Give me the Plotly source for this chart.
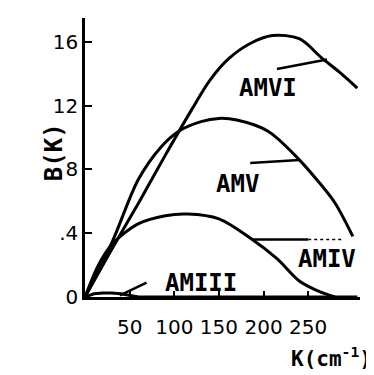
import plotly.graph_objects as go

# values
k_vi = [0, 30, 60, 90, 120, 140, 160, 185, 210, 240, 265, 285, 305]
b_vi = [0, 3.0, 5.9, 8.9, 11.8, 13.6, 14.9, 15.9, 16.4, 16.2, 15.0, 14.1, 13.1]

k_v = [0, 30, 60, 85, 105, 130, 150, 170, 205, 235, 262, 280, 300]
b_v = [0, 3.4, 7.4, 9.4, 10.4, 11.0, 11.2, 11.1, 10.4, 8.9, 7.2, 5.9, 3.8]

k_iv = [0, 15, 30, 60, 90, 115, 150, 185, 215, 240, 260, 280]
b_iv = [0, 2.0, 3.3, 4.6, 5.1, 5.2, 4.9, 3.7, 2.4, 1.0, 0.4, 0.0]

k_iii = [0, 10, 20, 30, 40, 50, 60, 305]
b_iii = [0, 0.2, 0.25, 0.25, 0.2, 0.1, 0.0, 0.0]

y_ticks = [0, 4, 8, 12, 16]
y_labels = ["0", ".4", "8", "12", "16"]
x_ticks = [50, 100, 150, 200, 250]
x_labels = ["50", "100", "150", "200", "250"]

labels = ["AMVI", "AMV", "AMIV", "AMIII"]
label_pos = [(205, 13.1), (171, 7.1), (271, 2.4), (130, 0.9)]
leaders = [((215, 14.3), (271, 14.9)), ((185, 8.4), (240, 8.6)),
           ((188, 3.6), (250, 3.6)), ((69, 0.9), (39, 0.1))]

fig = go.Figure()
for k, b, shape in [(k_vi, b_vi, "spline"), (k_v, b_v, "spline"),
                    (k_iv, b_iv, "spline"), (k_iii, b_iii, "linear")]:
    fig.add_trace(go.Scatter(x=k, y=b, mode="lines", line_shape=shape,
                             line=dict(color="black", width=3, smoothing=0.9),
                             hoverinfo="skip"))

for (x0, y0), (x1, y1) in leaders:
    fig.add_shape(type="line", x0=x0, y0=y0, x1=x1, y1=y1,
                  line=dict(color="black", width=2.5))
fig.add_shape(type="line", x0=250, y0=3.6, x1=289, y1=3.6,
              line=dict(color="black", width=1.5, dash="dot"))

mono = "DejaVu Sans Mono"
for t, (x, y) in zip(labels, label_pos):
    fig.add_annotation(x=x, y=y, text="<b>" + t + "</b>", showarrow=False,
                       xanchor="center",
                       font=dict(family=mono, size=24, color="black"))

fig.add_annotation(xref="paper", yref="paper", x=-0.17, y=0.52, text="<b>B(K)</b>",
                   textangle=-90, showarrow=False,
                   font=dict(family=mono, size=24, color="black"))
fig.add_annotation(xref="paper", yref="paper", x=1.05, y=-0.215,
                   text="<b>K(cm<sup>-1</sup>)</b>",
                   xanchor="right", yanchor="middle", showarrow=False,
                   font=dict(family=mono, size=21, color="black"))

fig.update_layout(
    width=374, height=375, showlegend=False,
    margin=dict(l=77, r=22, t=10, b=86),
    plot_bgcolor="white", paper_bgcolor="white",
    xaxis=dict(range=[0, 308], showgrid=False, zeroline=False, showline=True,
               linecolor="black", linewidth=2.5, ticks="inside", ticklen=6,
               tickwidth=2, tickcolor="black", tickvals=x_ticks, ticktext=x_labels,
               ticklabelstandoff=10,
               tickfont=dict(family="DejaVu Sans", size=20, color="black")),
    yaxis=dict(range=[0, 17.5], showgrid=False, zeroline=False, showline=True,
               linecolor="black", linewidth=2.5, ticks="inside", ticklen=7,
               tickwidth=2, tickcolor="black", tickvals=y_ticks, ticktext=y_labels,
               tickfont=dict(family="DejaVu Sans", size=20, color="black")),
)

fig.write_html("out.html")
